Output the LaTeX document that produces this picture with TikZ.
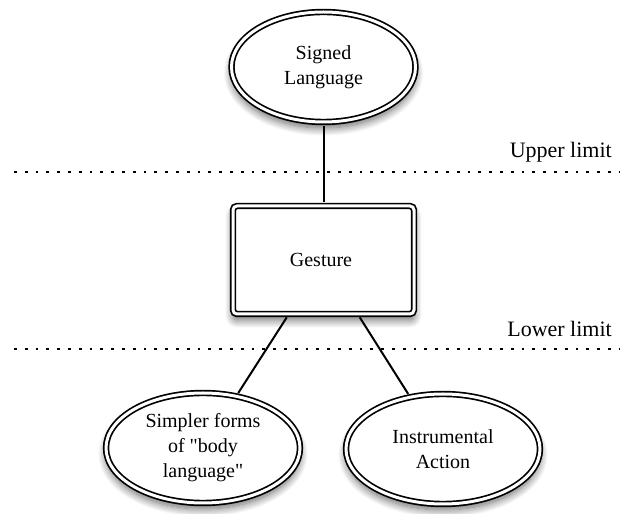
\documentclass[tikz,border=0pt]{standalone}
\usepackage{fontspec}
\setmainfont{Liberation Serif}
\usetikzlibrary{positioning}
\usetikzlibrary{shapes}
\usetikzlibrary{shadows.blur}
\tikzset{>=latex}
\tikzstyle{mynode}=[align=center, draw=black, line width=1.7pt, double=white, double distance=3pt, fill=white, inner sep=0pt, font=\fontsize{20}{25}\selectfont, blur shadow={shadow xshift=0pt, shadow yshift=-6pt, shadow blur radius=8pt, shadow blur steps=14, shadow opacity=60}]
\tikzstyle{lang}=[mynode, ellipse, minimum width=184pt, minimum height=110pt]
\tikzstyle{gest}=[mynode, rectangle, rounded corners=4pt, minimum width=181pt, minimum height=108pt]
\tikzstyle{limit}=[dash pattern=on 2.7pt off 8.1pt, line width=2pt]
\tikzstyle{limitlabel}=[font=\fontsize{22}{26}\selectfont, anchor=base east, inner sep=0pt]
\tikzstyle{connect}=[line width=2pt, shorten <=3pt, shorten >=3pt]

\begin{document}
\begin{tikzpicture}[
    x=1pt, y=1pt,
    on grid]
\useasboundingbox (0,0) rectangle (622,514);

\node[gest] (gesture) at (323.5,254) { Gesture };
\node[lang] (signed) [above=193pt of gesture] { Signed\\Language };
\node[lang, minimum width=194pt] (simpler) [below left=188pt and 120.5pt of gesture] { Simpler forms\\of \textquotedbl body\\language\textquotedbl };
\node[lang, minimum width=194pt] (instr) [below right=189pt and 119.5pt of gesture] { Instrumental\\Action };

% limits
\coordinate (upper west) at (14,342);
\coordinate (upper east) at (620,342);
\coordinate (lower west) at (14,165);
\coordinate (lower east) at (620,165);
\draw[limit] (upper west) -- (upper east);
\draw[limit] (lower west) -- (lower east);
\node[limitlabel] (upper) at (612,356) { Upper limit };
\node[limitlabel] (lower) at (612,177) { Lower limit };

\begin{scope}[connect]
    \draw (signed) -- (gesture);
    \draw (gesture) -- (simpler);
    \draw (gesture) -- (instr);
\end{scope}

\end{tikzpicture}
\end{document}
